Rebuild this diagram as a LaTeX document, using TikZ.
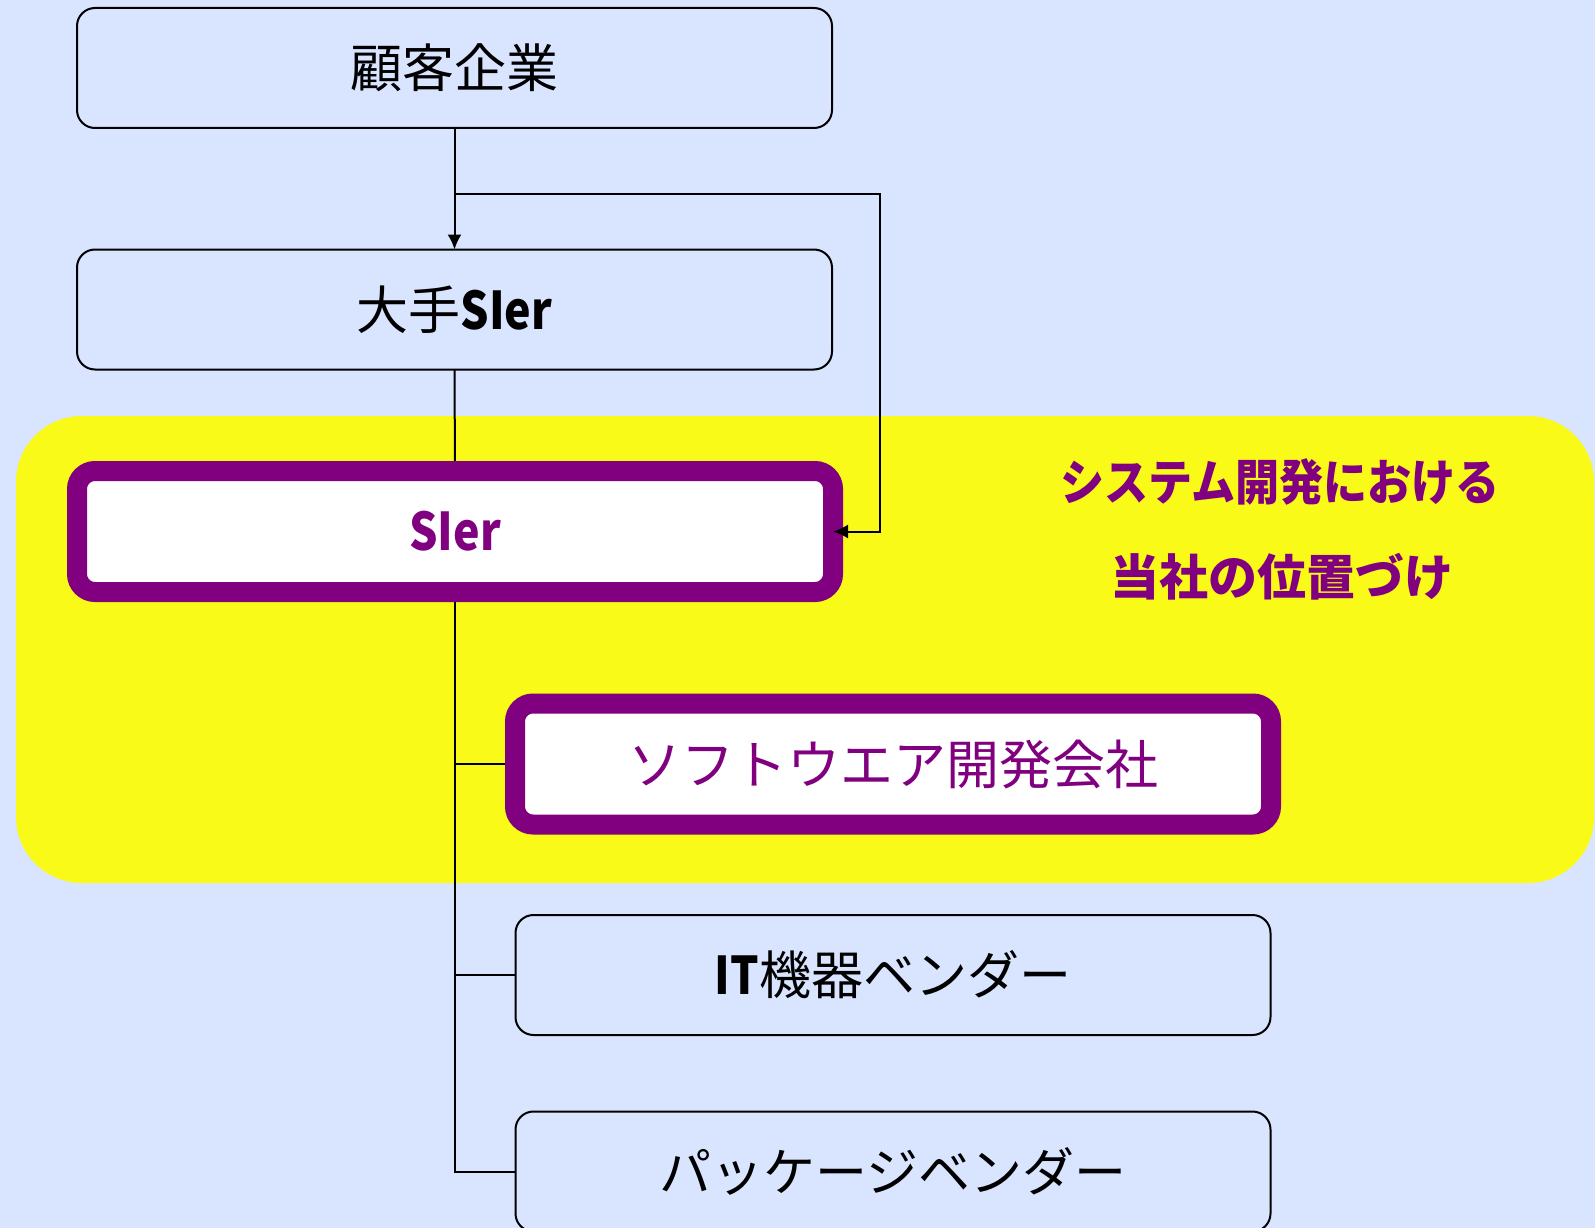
\documentclass[tikz,border=0pt]{standalone}
\usepackage{fontspec}
\setmainfont{Noto Sans CJK JP}
\usetikzlibrary{arrows.meta,backgrounds}
\definecolor{bgblue}{RGB}{217,228,255}
\definecolor{hiyellow}{RGB}{250,250,25}
\definecolor{hipurple}{RGB}{128,0,128}
\newcommand{\latinb}[1]{{\bfseries\addfontfeature{FakeStretch=0.86}#1}}
\begin{document}
\begin{tikzpicture}[x=1pt,y=-1pt,
  plainbox/.style={draw=black,line width=2pt,rounded corners=18pt,minimum width=755pt,minimum height=120pt,outer sep=0pt,inner sep=0pt,font=\fontsize{52}{60}\selectfont},
  hibox/.style={draw=hipurple,fill=white,line width=20pt,rounded corners=18pt,minimum width=756pt,minimum height=121pt,outer sep=0pt,inner sep=0pt,text=hipurple,font=\fontsize{52}{60}\selectfont},
  conn/.style={line width=2pt,draw=black},
  arr/.style={conn,-{Latex[length=15pt,width=14pt]}},
  titletext/.style={text=hipurple,font=\fontsize{49}{52}\selectfont\bfseries,inner sep=0pt}]
\useasboundingbox (0,0) rectangle (1595,1228);
\begin{pgfonlayer}{background}
  \fill[bgblue] (0,0) rectangle (1595,1228);
  \fill[hiyellow,rounded corners=66pt] (16,416) rectangle (1594,883);
\end{pgfonlayer}

\node[plainbox] (k) at (454.5,68) {顧客企業};
\node[plainbox] (o) at (454.5,309.5) {大手\latinb{SIer}};
\node[hibox] (s) at (455,531.5) {\latinb{SIer}};
\node[hibox,font=\fontsize{53}{60}\selectfont] (sw) at (893,764) {ソフトウエア開発会社};
\node[plainbox] (it) at (893,975) {\latinb{IT}機器ベンダー};
\node[plainbox] (pk) at (893,1171.5) {パッケージベンダー};

\node[titletext] (t1) at (1280,482) {\addfontfeature{FakeStretch=0.9}システム開発における};
\node[titletext] (t2) at (1282,577) {当社の位置づけ};

\coordinate (turn) at (880,194);

\begin{pgfonlayer}{background}
  \draw[arr] (k.south) -- (o.north);
  \draw[conn] (o.south) -- (s.north);
  \draw[conn] (s.south) |- (sw.west);
  \draw[conn] (s.south) |- (it.west);
  \draw[conn] (s.south) |- (pk.west);
\end{pgfonlayer}
\draw[arr] (k.south) |- (turn) |- (s.east);
\end{tikzpicture}
\end{document}
